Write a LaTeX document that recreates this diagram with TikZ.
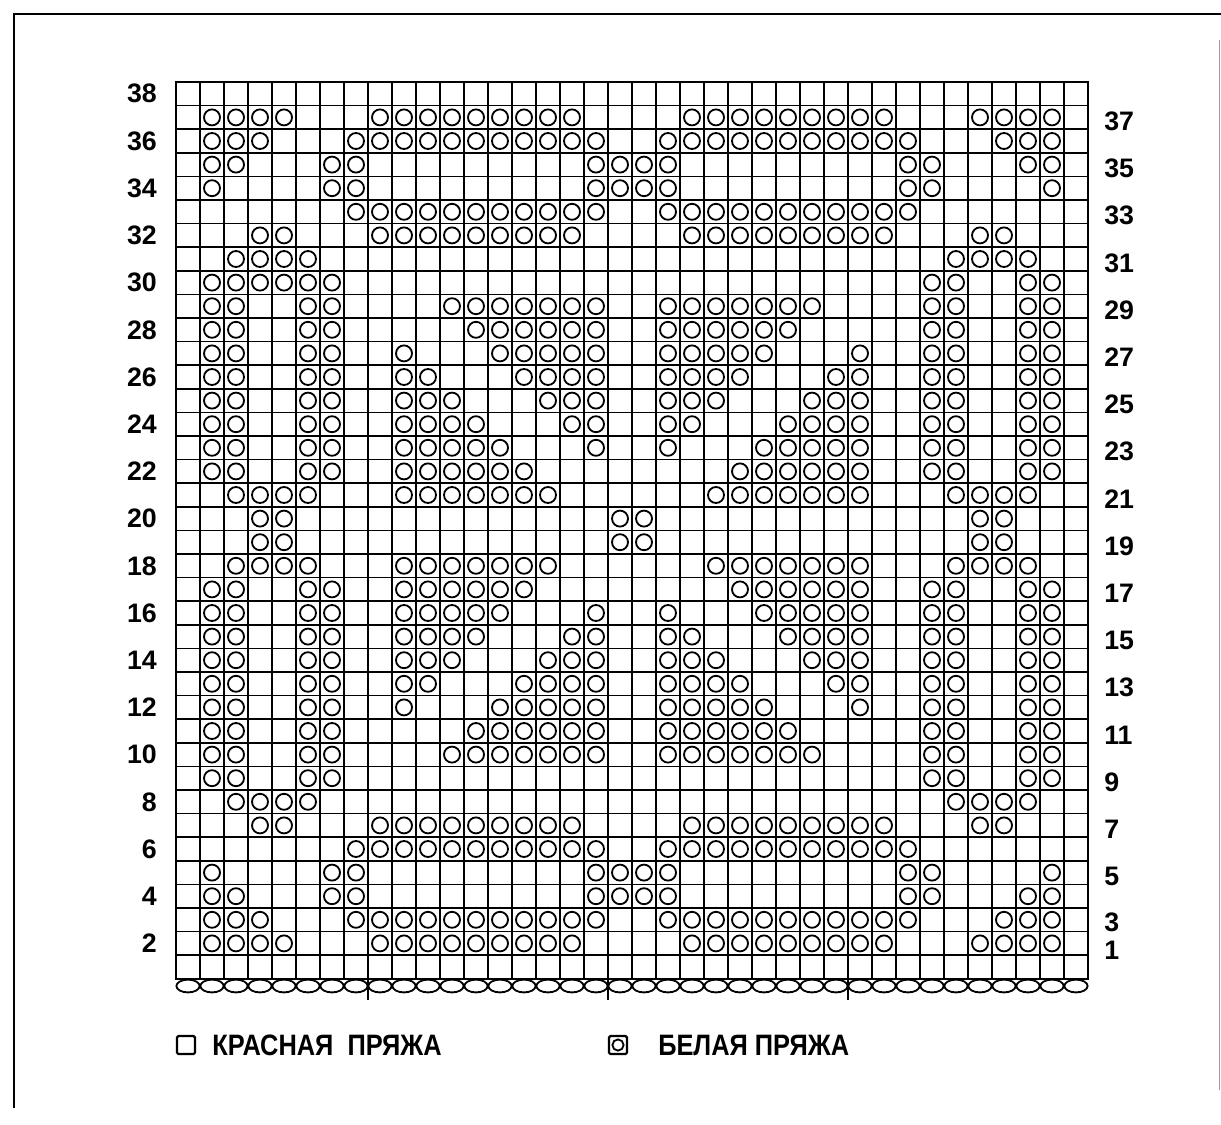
\documentclass[tikz,border=0pt]{standalone}
\usepackage{fontspec}
\setmainfont{Liberation Sans}
\newfontfamily\legendfont{Liberation Sans}[FakeStretch=0.86]
\usepackage{tikz}
\usetikzlibrary{positioning}

\begin{document}
\begin{tikzpicture}[x=0.025cm, y=-0.025cm,
  gridline/.style={line width=1.2pt},
  stitch/.style={line width=1.3pt},
  rowlabel/.style={font=\fontsize{19}{20}\selectfont\bfseries, inner sep=0pt},
  yarnlabel/.style={font=\legendfont\fontsize{21}{23}\selectfont\bfseries, inner sep=0pt}]
  \useasboundingbox (0,0) rectangle (1221,1124);

  % page frame
  \draw[line width=1.2pt] (14,1108) -- (14,14) -- (1221,14);
  \draw[line width=0.4pt, black!40] (1219,40) -- (1219,1090);

  % chart grid, 38 x 38 cells
  \foreach \i in {0,...,38} {
    \draw[gridline] ({176+24*\i}, 82) -- ({176+24*\i}, 979);
    \draw[gridline] (176, {82+23.6*\i}) -- (1088, {82+23.6*\i});
  }
  \foreach \i in {10,20,30}
    \draw[line width=1.8pt] ({176+24*\i}, 82) -- ({176+24*\i}, 979);
  \draw[line width=2pt] (176,82) rectangle (1088,979);

  % cast-on edge
  \foreach \i in {1,...,38}
    \draw[stitch] ({176+24*\i-12}, 986) ellipse[x radius=0.29cm, y radius=0.16cm];
  \foreach \x in {368,608,848}
    \draw[gridline] (\x,979) -- (\x,1000);

  % white yarn stitches: row / runs of columns (first/last)
  \foreach \r/\runs in {
      37/{2/5,9/17,22/30,34/37},
      36/{2/4,8/18,21/31,35/37},
      35/{2/3,7/8,18/21,31/32,36/37},
      34/{2/2,7/8,18/21,31/32,37/37},
      33/{8/18,21/31},
      32/{4/5,9/17,22/30,34/35},
      31/{3/6,33/36},
      30/{2/7,32/33,36/37},
      29/{2/3,6/7,12/18,21/27,32/33,36/37},
      28/{2/3,6/7,13/18,21/26,32/33,36/37},
      27/{2/3,6/7,10/10,14/18,21/25,29/29,32/33,36/37},
      26/{2/3,6/7,10/11,15/18,21/24,28/29,32/33,36/37},
      25/{2/3,6/7,10/12,16/18,21/23,27/29,32/33,36/37},
      24/{2/3,6/7,10/13,17/18,21/22,26/29,32/33,36/37},
      23/{2/3,6/7,10/14,18/18,21/21,25/29,32/33,36/37},
      22/{2/3,6/7,10/15,24/29,32/33,36/37},
      21/{3/6,10/16,23/29,33/36},
      20/{4/5,19/20,34/35},
      19/{4/5,19/20,34/35},
      18/{3/6,10/16,23/29,33/36},
      17/{2/3,6/7,10/15,24/29,32/33,36/37},
      16/{2/3,6/7,10/14,18/18,21/21,25/29,32/33,36/37},
      15/{2/3,6/7,10/13,17/18,21/22,26/29,32/33,36/37},
      14/{2/3,6/7,10/12,16/18,21/23,27/29,32/33,36/37},
      13/{2/3,6/7,10/11,15/18,21/24,28/29,32/33,36/37},
      12/{2/3,6/7,10/10,14/18,21/25,29/29,32/33,36/37},
      11/{2/3,6/7,13/18,21/26,32/33,36/37},
      10/{2/3,6/7,12/18,21/27,32/33,36/37},
      9/{2/3,6/7,32/33,36/37},
      8/{3/6,33/36},
      7/{4/5,9/17,22/30,34/35},
      6/{8/18,21/31},
      5/{2/2,7/8,18/21,31/32,37/37},
      4/{2/3,7/8,18/21,31/32,36/37},
      3/{2/4,8/18,21/31,35/37},
      2/{2/5,9/17,22/30,34/37}} {
    \foreach \a/\b in \runs
      \foreach \c in {\a,...,\b}
        \draw[stitch] ({176+24*\c-12}, {82+23.6*(38.5-\r)}) circle[radius=0.2cm];
  }

  % row numbers
  \foreach \r in {2,4,...,38}
    \node[rowlabel, anchor=east] (left\r) at (157, {82+23.6*(38.5-\r)}) {\r};
  \foreach \r in {5,7,...,37}
    \node[rowlabel, anchor=west] (right\r) at (1104, {82+23.6*(38.5-\r)+4}) {\r};
  \node[rowlabel, anchor=west] (right3) at (1104, 922) {3};
  \node[rowlabel, anchor=west] (right1) at (1104, 950) {1};

  % legend
  \draw[line width=1.6pt, rounded corners=1pt] (177,1036) rectangle (195,1054);
  \node[yarnlabel, anchor=west] (redyarn) at (212,1045) {КРАСНАЯ\ \ ПРЯЖА};
  \draw[line width=1.6pt, rounded corners=1pt] (609,1036) rectangle (627,1054);
  \draw[line width=1.3pt] (618,1045) circle[radius=0.14cm];
  \node[yarnlabel, anchor=west] (whiteyarn) at (658,1045) {БЕЛАЯ ПРЯЖА};
\end{tikzpicture}
\end{document}
